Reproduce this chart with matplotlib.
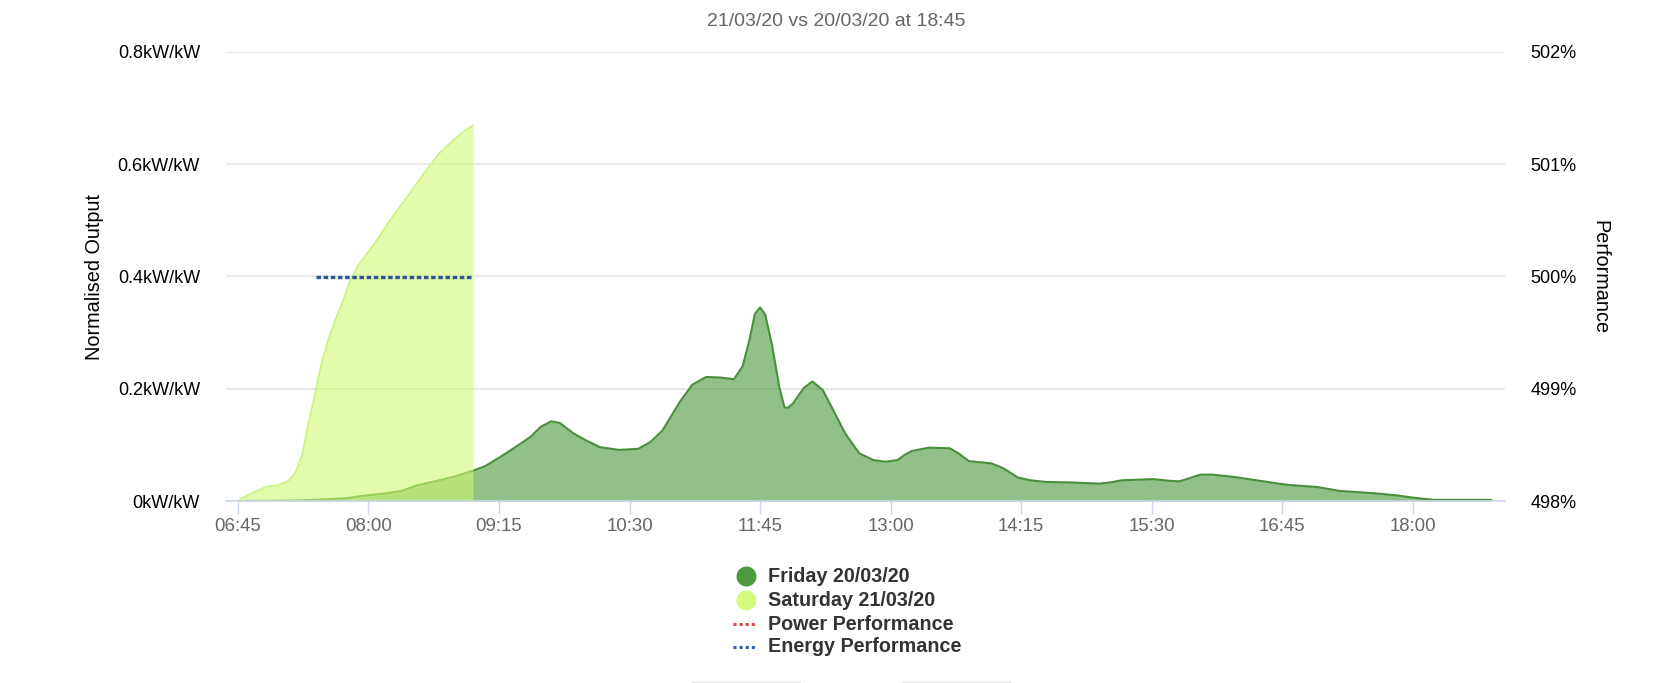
import matplotlib
matplotlib.use("Agg")
import matplotlib.pyplot as plt
from matplotlib.lines import Line2D
import numpy as np

plt.rcParams['font.family'] = ['Liberation Sans', 'DejaVu Sans']

# data
fri_times = ['06:45', '07:20', '07:35', '07:48', '07:56', '08:02', '08:11', '08:19', '08:28',
             '08:38', '08:50', '09:00', '09:07', '09:15', '09:23', '09:33', '09:39', '09:45',
             '09:50', '09:58', '10:05', '10:13', '10:24', '10:35', '10:42', '10:49', '10:59',
             '11:06', '11:14', '11:22', '11:30', '11:35', '11:39', '11:42', '11:45', '11:48',
             '11:52', '11:56', '11:59', '12:01', '12:04', '12:10', '12:15', '12:21', '12:29',
             '12:34', '12:42', '12:50', '12:57', '13:04', '13:08', '13:12', '13:22', '13:34',
             '13:39', '13:45', '13:58', '14:05', '14:13', '14:20', '14:29', '14:44', '15:00',
             '15:06', '15:13', '15:31', '15:40', '15:46', '15:52', '15:58', '16:05', '16:17',
             '16:30', '16:45', '16:51', '17:05', '17:18', '17:37', '17:51', '18:00', '18:12',
             '18:45']
fri_vals = [0.0, 0.001, 0.003, 0.005, 0.009, 0.011, 0.014, 0.018, 0.028,
            0.035, 0.044, 0.054, 0.062, 0.077, 0.093, 0.114, 0.132, 0.142,
            0.139, 0.120, 0.108, 0.096, 0.091, 0.093, 0.105, 0.126, 0.177,
            0.207, 0.221, 0.220, 0.217, 0.240, 0.288, 0.333, 0.345, 0.332,
            0.276, 0.204, 0.167, 0.166, 0.174, 0.201, 0.213, 0.198, 0.150,
            0.120, 0.085, 0.073, 0.070, 0.073, 0.082, 0.089, 0.095, 0.094,
            0.085, 0.071, 0.067, 0.058, 0.042, 0.037, 0.034, 0.033, 0.031,
            0.033, 0.037, 0.039, 0.036, 0.035, 0.041, 0.047, 0.047, 0.043,
            0.037, 0.030, 0.028, 0.025, 0.018, 0.014, 0.010, 0.006, 0.002,
            0.002]

sat_times = ['06:45', '06:53', '07:02', '07:08', '07:14', '07:18', '07:22', '07:25', '07:29',
             '07:33', '07:37', '07:41', '07:45', '07:49', '07:54', '08:04', '08:13', '08:23',
             '08:32', '08:40', '08:48', '08:55', '09:00']
sat_vals = [0.001, 0.014, 0.026, 0.028, 0.036, 0.050, 0.083, 0.131, 0.185,
            0.245, 0.287, 0.323, 0.353, 0.389, 0.419, 0.461, 0.503, 0.545,
            0.584, 0.617, 0.641, 0.659, 0.669]

energy_times = ['07:30', '09:00']
energy_vals = [500, 500]

x_tick_labels = ['06:45', '08:00', '09:15', '10:30', '11:45', '13:00', '14:15', '15:30', '16:45', '18:00']
y_left_ticks = [0, 0.2, 0.4, 0.6, 0.8]
y_right_ticks = [498, 499, 500, 501, 502]

legend_labels = ['Friday 20/03/20', 'Saturday 21/03/20', 'Power Performance', 'Energy Performance']


def hm(s):
    h, m = s.split(':')
    return int(h) * 60 + int(m)


W, H = 1672, 683
fig = plt.figure(figsize=(W / 100, H / 100), dpi=100)
ax = fig.add_axes([225.7 / W, 182 / H, (1505 - 225.7) / W, 449 / H])

fri_x = np.array([hm(t) for t in fri_times])
sat_x = np.array([hm(t) for t in sat_times])

fri_col = '#48963a'
sat_col = '#d0fa73'

ax.fill_between(fri_x, fri_vals, color=fri_col, alpha=0.6, lw=0, zorder=2)
ax.plot(fri_x, fri_vals, color='#4a8f3d', lw=1.5, zorder=3, solid_joinstyle='round')
ax.fill_between(sat_x, sat_vals, color=sat_col, alpha=0.6, lw=0, zorder=4)
ax.plot(sat_x, sat_vals, color='#c9f27a', lw=1.2, zorder=4, solid_joinstyle='round')

ax.set_xlim(hm('06:38'), hm('18:53'))
ax.set_ylim(0, 0.8)
ax.set_xticks([hm(t) for t in x_tick_labels])
ax.set_xticklabels(x_tick_labels)
ax.set_yticks(y_left_ticks)
ax.set_yticklabels(['%gkW/kW' % v for v in y_left_ticks])
ax.grid(axis='y', color='#e6e6e6', lw=1.3, zorder=0)
ax.set_axisbelow(True)
for s in ['top', 'left', 'right']:
    ax.spines[s].set_visible(False)
ax.spines['bottom'].set_color('#ccd6eb')
ax.spines['bottom'].set_linewidth(1.2)
ax.spines['bottom'].set_zorder(5)
ax.tick_params(axis='x', length=9.5, width=1, color='#ccd6eb', labelcolor='#666666',
               labelsize=13.4, pad=3)
ax.tick_params(axis='y', length=0, labelsize=13, labelcolor='black', pad=18.5)

ax2 = ax.twinx()
ax2.set_ylim(498, 502)
ax2.set_yticks(y_right_ticks)
ax2.set_yticklabels(['%d%%' % v for v in y_right_ticks])
ax2.tick_params(axis='y', length=0, labelsize=13, pad=18.5)
for s in ['top', 'left', 'right', 'bottom']:
    ax2.spines[s].set_visible(False)
ax2.plot([hm(t) for t in energy_times], energy_vals, color='#2f5597', lw=2.4,
         dashes=(1.35, 0.8), zorder=6)

fig.text(0.5, 1 - 21 / H, '21/03/20 vs 20/03/20 at 18:45', color='#666666',
         fontsize=14, ha='center', va='center')
fig.text(94 / W, 1 - 277 / H, 'Normalised Output', rotation=90, fontsize=14.3,
         ha='center', va='center')
fig.text(1600 / W, 1 - 277 / H, 'Performance', rotation=270, fontsize=14.3,
         ha='center', va='center')

# legend
rows = [576, 600, 624, 647]
for i, lab in enumerate(legend_labels):
    yy = 1 - rows[i] / H
    if i == 0:
        fig.add_artist(Line2D([746 / W], [yy], marker='o', ms=14.4, color='#4e9a3e',
                              mec='none', transform=fig.transFigure))
    elif i == 1:
        fig.add_artist(Line2D([746 / W], [yy], marker='o', ms=14.4, color='#d4f97c',
                              mec='none', transform=fig.transFigure))
    else:
        c = '#e0474c' if i == 2 else '#2f5da8'
        fig.add_artist(Line2D([733 / W, 757 / W], [yy, yy], color=c, lw=2.2,
                              dashes=(1.0, 1.0), transform=fig.transFigure))
    fig.text(768 / W, yy, lab, fontsize=14.2, fontweight='bold', color='#333333',
             ha='left', va='center')

# tops of the buttons below the chart
for x0, x1 in [(692, 800), (902, 1010)]:
    fig.add_artist(Line2D([x0 / W, x1 / W], [1.5 / H, 1.5 / H], color='#e3e3e3', lw=1,
                          transform=fig.transFigure))

fig.savefig('out.png', dpi=100, facecolor='white')
